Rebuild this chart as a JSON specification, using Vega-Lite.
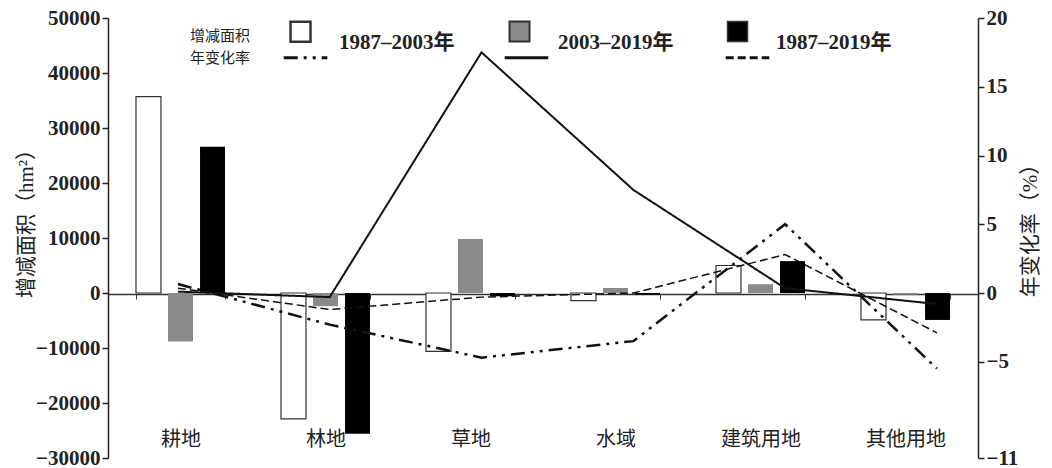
{
  "$schema": "https://vega.github.io/schema/vega-lite/v6.json",
  "width": 870,
  "height": 440,
  "autosize": {"type": "none"},
  "padding": {"left": 108, "top": 18, "right": 74, "bottom": 10},
  "background": "white",
  "config": {"view": {"stroke": null}, "font": "Liberation Serif, Noto Sans CJK SC"},
  "datasets": {
    "bars": [
      {"landuse": "耕地", "period": "1987–2003年", "area": 35700},
      {"landuse": "耕地", "period": "2003–2019年", "area": -8800},
      {"landuse": "耕地", "period": "1987–2019年", "area": 26600},
      {"landuse": "林地", "period": "1987–2003年", "area": -22900},
      {"landuse": "林地", "period": "2003–2019年", "area": -2400},
      {"landuse": "林地", "period": "1987–2019年", "area": -25600},
      {"landuse": "草地", "period": "1987–2003年", "area": -10600},
      {"landuse": "草地", "period": "2003–2019年", "area": 9800},
      {"landuse": "草地", "period": "1987–2019年", "area": -600},
      {"landuse": "水域", "period": "1987–2003年", "area": -1400},
      {"landuse": "水域", "period": "2003–2019年", "area": 900},
      {"landuse": "水域", "period": "1987–2019年", "area": -300},
      {"landuse": "建筑用地", "period": "1987–2003年", "area": 5000},
      {"landuse": "建筑用地", "period": "2003–2019年", "area": 1600},
      {"landuse": "建筑用地", "period": "1987–2019年", "area": 5800},
      {"landuse": "其他用地", "period": "1987–2003年", "area": -4900},
      {"landuse": "其他用地", "period": "2003–2019年", "area": -300},
      {"landuse": "其他用地", "period": "1987–2019年", "area": -4900}
    ],
    "rates": [
      {"landuse": "耕地", "series": "1987–2003年", "rate": 0.65},
      {"landuse": "林地", "series": "1987–2003年", "rate": -2.3},
      {"landuse": "草地", "series": "1987–2003年", "rate": -4.7},
      {"landuse": "水域", "series": "1987–2003年", "rate": -3.5},
      {"landuse": "建筑用地", "series": "1987–2003年", "rate": 5.0},
      {"landuse": "其他用地", "series": "1987–2003年", "rate": -5.5},
      {"landuse": "耕地", "series": "2003–2019年", "rate": 0.1},
      {"landuse": "林地", "series": "2003–2019年", "rate": -0.3},
      {"landuse": "草地", "series": "2003–2019年", "rate": 17.5},
      {"landuse": "水域", "series": "2003–2019年", "rate": 7.5},
      {"landuse": "建筑用地", "series": "2003–2019年", "rate": 0.35},
      {"landuse": "其他用地", "series": "2003–2019年", "rate": -0.8},
      {"landuse": "耕地", "series": "1987–2019年", "rate": 0.35},
      {"landuse": "林地", "series": "1987–2019年", "rate": -1.2},
      {"landuse": "草地", "series": "1987–2019年", "rate": -0.3},
      {"landuse": "水域", "series": "1987–2019年", "rate": 0.0},
      {"landuse": "建筑用地", "series": "1987–2019年", "rate": 2.8},
      {"landuse": "其他用地", "series": "1987–2019年", "rate": -2.9}
    ]
  },
  "layer": [
    {
      "data": {"name": "bars"},
      "mark": {"type": "bar"},
      "encoding": {
        "x": {
          "field": "landuse", "type": "nominal",
          "sort": ["耕地", "林地", "草地", "水域", "建筑用地", "其他用地"],
          "scale": {"paddingInner": 0.386, "paddingOuter": 0.193},
          "axis": {
            "title": null, "orient": "bottom", "offset": -164,
            "domainColor": "#333", "domainWidth": 1.5,
            "tickBand": "extent", "tickColor": "#333", "tickSize": 5,
            "labelPadding": 130, "labelFont": "Noto Sans CJK SC", "labelFontSize": 20,
            "labelColor": "#222", "labelAngle": 0
          }
        },
        "xOffset": {
          "field": "period", "type": "nominal",
          "scale": {"domain": ["1987–2003年", "2003–2019年", "1987–2019年"], "paddingInner": 0.22, "paddingOuter": 0}
        },
        "y": {
          "field": "area", "type": "quantitative",
          "scale": {"domain": [-30000, 50000], "nice": false},
          "axis": {
            "title": "增减面积（hm²）", "orient": "left",
            "values": [-30000, -20000, -10000, 0, 10000, 20000, 30000, 40000, 50000],
            "format": "d", "grid": false,
            "domainColor": "#222", "domainWidth": 1.5, "tickColor": "#222", "tickSize": 6, "tickWidth": 1.5,
            "labelFont": "Liberation Serif", "labelFontWeight": "bold", "labelFontSize": 21, "labelColor": "#222",
            "titleFont": "Liberation Serif, Noto Sans CJK SC", "titleFontSize": 21, "titleFontWeight": "normal", "titleColor": "#222",
            "titleX": -82, "titleY": 200, "titleAngle": 270, "titleAlign": "center", "titleBaseline": "middle"
          }
        },
        "fill": {
          "field": "period", "type": "nominal",
          "scale": {"domain": ["1987–2003年", "2003–2019年", "1987–2019年"], "range": ["#ffffff", "#8a8a8a", "#000000"]},
          "legend": {
            "title": "增减面积", "orient": "none", "legendX": 82, "legendY": 2,
            "direction": "horizontal", "columns": 3, "titleOrient": "left",
            "titleFont": "Noto Sans CJK SC", "titleFontSize": 15, "titleFontWeight": "normal", "titleColor": "#222",
            "titlePadding": 38,
            "symbolType": "square", "symbolSize": 400, "symbolStrokeColor": "#333", "symbolStrokeWidth": 1,
            "labelFont": "Liberation Serif, Noto Sans CJK SC", "labelFontSize": 21, "labelFontWeight": "bold", "labelColor": "#222",
            "labelOffset": 27, "labelBaseline": "top", "columnPadding": 50, "labelLimit": 300
          }
        },
        "stroke": {"condition": {"test": "datum.period === '1987–2003年'", "value": "#333333"}, "value": null},
        "strokeWidth": {"value": 1.2}
      }
    },
    {
      "data": {"name": "rates"},
      "mark": {"type": "line", "color": "#111"},
      "encoding": {
        "x": {
          "field": "landuse", "type": "nominal",
          "sort": ["耕地", "林地", "草地", "水域", "建筑用地", "其他用地"],
          "scale": {"type": "point", "padding": 0.3655, "align": 0.63},
          "axis": null
        },
        "y": {
          "field": "rate", "type": "quantitative",
          "scale": {"domain": [-12, 20], "nice": false, "zero": false},
          "axis": {
            "title": "年变化率（%）", "orient": "right",
            "values": [-12, -5, 0, 5, 10, 15, 20],
            "labelExpr": "datum.value === -12 ? '−11' : datum.label",
            "format": "d", "grid": false,
            "domainColor": "#222", "domainWidth": 1.5, "tickColor": "#222", "tickSize": 6, "tickWidth": 1.5,
            "labelFont": "Liberation Serif", "labelFontWeight": "bold", "labelFontSize": 21, "labelColor": "#222",
            "titleFont": "Liberation Serif, Noto Sans CJK SC", "titleFontSize": 21, "titleFontWeight": "normal", "titleColor": "#222",
            "titleX": 52, "titleY": 207, "titleAngle": 270, "titleAlign": "center", "titleBaseline": "middle"
          }
        },
        "strokeDash": {
          "field": "series", "type": "nominal",
          "sort": ["1987–2003年", "2003–2019年", "1987–2019年"],
          "scale": {"range": [[14, 6, 3, 6, 3, 6], [1, 0], [8, 4]]},
          "legend": {
            "title": "年变化率", "orient": "none", "legendX": 82, "legendY": 16,
            "direction": "horizontal", "columns": 3, "titleOrient": "left",
            "titleBaseline": "line-top", "titleLineHeight": 20,
            "titleFont": "Noto Sans CJK SC", "titleFontSize": 15, "titleFontWeight": "normal", "titleColor": "#222",
            "titlePadding": 31,
            "symbolType": "stroke", "symbolSize": 1900, "symbolStrokeWidth": 3, "symbolStrokeColor": "#111",
            "labelExpr": "''", "labelOffset": 0, "columnPadding": 164
          }
        },
        "strokeWidth": {
          "field": "series", "type": "nominal",
          "scale": {"domain": ["1987–2003年", "2003–2019年", "1987–2019年"], "range": [2.5, 1.5, 2.5]},
          "legend": null
        }
      }
    }
  ],
  "resolve": {"scale": {"x": "independent", "y": "independent"}}
}
